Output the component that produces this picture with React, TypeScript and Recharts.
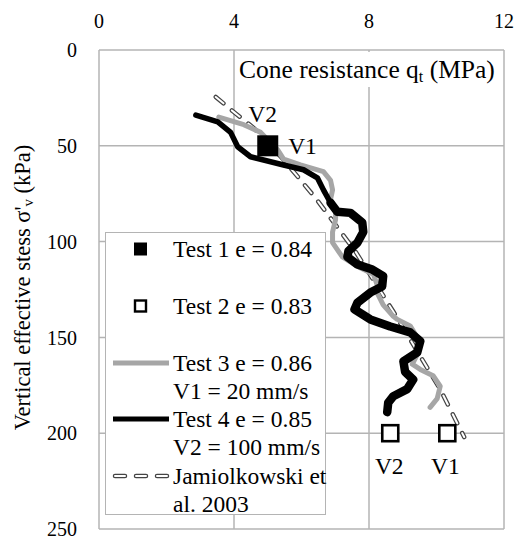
import { ComposedChart, Line, Scatter, XAxis, YAxis, CartesianGrid, Legend, Label } from "recharts"

const FONT = "'Liberation Serif', serif"

const xTicks = [0, 4, 8, 12]
const yTicks = [0, 50, 100, 150, 200, 250]

const test1 = [{ x: 5.0, y: 50 }]
const test2 = [{ x: 8.63, y: 200 }, { x: 10.32, y: 200 }]

const test3 = [
  { x: 3.55, y: 35 }, { x: 4.29, y: 39 }, { x: 4.79, y: 43 }, { x: 5.29, y: 52 },
  { x: 5.47, y: 57 }, { x: 5.97, y: 60 }, { x: 6.65, y: 63.5 }, { x: 6.86, y: 68 },
  { x: 6.92, y: 73 }, { x: 6.86, y: 78 }, { x: 7.01, y: 83 }, { x: 7.01, y: 88.5 },
  { x: 6.92, y: 95 }, { x: 6.92, y: 100.5 }, { x: 7.21, y: 108 }, { x: 7.66, y: 113 },
  { x: 8.13, y: 117 }, { x: 8.25, y: 123 }, { x: 8.25, y: 127 }, { x: 8.42, y: 133 },
  { x: 8.72, y: 139 }, { x: 8.84, y: 140.6 }, { x: 9.22, y: 144 }, { x: 9.5, y: 152 },
  { x: 9.43, y: 159 }, { x: 9.28, y: 164 }, { x: 9.52, y: 166.7 }, { x: 9.9, y: 170 },
  { x: 10.11, y: 175.5 }, { x: 10.02, y: 182 }, { x: 9.81, y: 186.5 },
]

// test 4 drawn in two parts: smooth upper part, noisy (thicker) lower part
const test4Upper = [
  { x: 2.87, y: 34 }, { x: 3.52, y: 37.5 }, { x: 3.9, y: 43 }, { x: 4.11, y: 50.5 },
  { x: 4.49, y: 55.7 }, { x: 5.47, y: 60 }, { x: 6.06, y: 62.5 }, { x: 6.47, y: 66.7 },
  { x: 6.65, y: 73 }, { x: 6.86, y: 79.7 },
]
const test4Lower = [
  { x: 6.86, y: 79.7 }, { x: 7.06, y: 84.4 }, { x: 7.45, y: 85 },
  { x: 7.8, y: 90 }, { x: 7.83, y: 95 }, { x: 7.66, y: 100.5 }, { x: 7.39, y: 105 },
  { x: 7.36, y: 108 }, { x: 7.66, y: 112 }, { x: 8.1, y: 114.6 }, { x: 8.42, y: 118 },
  { x: 8.39, y: 123.4 }, { x: 8.04, y: 126.6 }, { x: 7.66, y: 131.8 }, { x: 7.57, y: 135.4 },
  { x: 8.04, y: 140.6 }, { x: 8.63, y: 144.3 }, { x: 9.22, y: 147.4 }, { x: 9.52, y: 152 },
  { x: 9.43, y: 157.8 }, { x: 9.02, y: 162.5 }, { x: 9.07, y: 168 }, { x: 9.31, y: 172 },
  { x: 9.13, y: 177 }, { x: 8.72, y: 180.7 }, { x: 8.57, y: 184 }, { x: 8.54, y: 189 },
]

const jamiolkowski = [
  { x: 3.46, y: 24.5 }, { x: 3.99, y: 32.3 }, { x: 4.58, y: 40.6 }, { x: 5.47, y: 57.3 },
  { x: 6.41, y: 77.1 }, { x: 7.6, y: 105.2 }, { x: 8.72, y: 136.5 }, { x: 10.11, y: 177.1 },
  { x: 10.82, y: 202 },
]

const pointLabels = [
  { x: 4.85, y: 33.5, text: "V2" },
  { x: 6.03, y: 50, text: "V1" },
  { x: 8.6, y: 217, text: "V2" },
  { x: 10.26, y: 217, text: "V1" },
]

const legendItems = [
  { kind: "filled", lines: ["Test 1 e = 0.84"] },
  { kind: "open", lines: ["Test 2 e = 0.83"] },
  { kind: "gray", lines: ["Test 3 e = 0.86", "V1 = 20 mm/s"] },
  { kind: "black", lines: ["Test 4 e = 0.85", "V2 = 100 mm/s"] },
  { kind: "dash", lines: ["Jamiolkowski et", "al. 2003"] },
]
const legendRowTops = [16, 73, 130, 186, 243]

const GRID = "#b4b4b4"

function FilledSquare(props: any) {
  const { cx, cy } = props
  return <rect x={cx - 10.5} y={cy - 10.5} width={21} height={21} fill="#000" />
}

function OpenSquare(props: any) {
  const { cx, cy } = props
  return <rect x={cx - 8} y={cy - 8} width={16} height={16} fill="#fff" stroke="#000" strokeWidth={2.6} />
}

function PointText(props: any) {
  const { cx, cy, payload } = props
  return (
    <text x={cx} y={cy} textAnchor="middle" dominantBaseline="central" fontFamily={FONT} fontSize={23.5} fill="#000">
      {payload.text}
    </text>
  )
}

function YTitle(props: any) {
  const vb = props.viewBox
  const x = 22
  const y = vb.y + vb.height / 2 - 2
  return (
    <text x={x} y={y} transform={`rotate(-90 ${x} ${y})`} textAnchor="middle" dominantBaseline="central"
      fontFamily={FONT} fontSize={22.5} fill="#000">
      Vertical effective stess σ'<tspan fontSize={15} dy={6}>v</tspan><tspan dy={-6}> (kPa)</tspan>
    </text>
  )
}

function LegendIcon({ kind }: { kind: string }) {
  return (
    <svg width={58} height={14} style={{ position: "absolute", left: 6, top: -7 }}>
      {kind === "filled" && <rect x={22} y={0.5} width={13} height={13} fill="#000" />}
      {kind === "open" && <rect x={23} y={1.5} width={11} height={11} fill="#fff" stroke="#000" strokeWidth={2.4} />}
      {kind === "gray" && <line x1={1} x2={57} y1={7} y2={7} stroke="#a6a6a6" strokeWidth={5} />}
      {kind === "black" && <line x1={1} x2={57} y1={7} y2={7} stroke="#000" strokeWidth={5} />}
      {kind === "dash" && (
        <g>
          <line x1={3} x2={57} y1={7} y2={7} stroke="#444" strokeWidth={4.5} strokeDasharray="10 11" strokeLinecap="round" />
          <line x1={3} x2={57} y1={7} y2={7} stroke="#fff" strokeWidth={2} strokeDasharray="10 11" strokeLinecap="round" />
        </g>
      )}
    </svg>
  )
}

function LegendBox() {
  return (
    <div style={{
      position: "relative", width: 219, height: 281, background: "#fff", border: `1.5px solid ${GRID}`,
      fontFamily: FONT, fontSize: 23.5, color: "#000", lineHeight: "28.5px",
    }}>
      {legendItems.map((item, i) => (
        <div key={i} style={{ position: "absolute", left: 0, top: legendRowTops[i] }}>
          <LegendIcon kind={item.kind} />
          <div style={{ position: "absolute", left: 67, top: -14.25, whiteSpace: "nowrap" }}>
            {item.lines.map((l, j) => <div key={j}>{l}</div>)}
          </div>
        </div>
      ))}
    </div>
  )
}

export default function App() {
  const tickStyle = { fill: "#000", fontSize: 20, fontFamily: FONT }
  return (
    <div style={{ position: "absolute", left: 0, top: 0, width: 518, height: 543, background: "#fff" }}>
      <ComposedChart width={518} height={543} margin={{ top: 0, right: 14, bottom: 14, left: 0 }}>
        <CartesianGrid stroke={GRID} strokeWidth={1.5} />
        <XAxis type="number" dataKey="x" orientation="top" domain={[0, 12]} ticks={xTicks} height={50}
          tickSize={0} tickMargin={22} axisLine={false} allowDataOverflow tick={tickStyle} />
        <YAxis type="number" dataKey="y" domain={[0, 250]} ticks={yTicks} reversed width={99}
          tickSize={0} tickMargin={22} axisLine={false} allowDataOverflow tick={tickStyle}>
          <Label content={YTitle} />
        </YAxis>
        <Legend layout="vertical" align="center" verticalAlign="middle"
          wrapperStyle={{ left: 105, top: 232, width: 222, height: 284 }} content={() => <LegendBox />} />
        <Line data={jamiolkowski} dataKey="y" stroke="#444" strokeWidth={4.5} strokeDasharray="10 11"
          strokeLinecap="round" dot={false} isAnimationActive={false} legendType="none" />
        <Line data={jamiolkowski} dataKey="y" stroke="#fff" strokeWidth={2} strokeDasharray="10 11"
          strokeLinecap="round" dot={false} isAnimationActive={false} legendType="none" />
        <Line data={test3} dataKey="y" stroke="#a6a6a6" strokeWidth={5} strokeLinejoin="round" strokeLinecap="round"
          dot={false} isAnimationActive={false} />
        <Line data={test4Upper} dataKey="y" stroke="#000" strokeWidth={5.5} strokeLinejoin="round" strokeLinecap="round"
          dot={false} isAnimationActive={false} />
        <Line data={test4Lower} dataKey="y" stroke="#000" strokeWidth={8.5} strokeLinejoin="round" strokeLinecap="round"
          dot={false} isAnimationActive={false} legendType="none" />
        <Scatter data={test1} shape={FilledSquare} isAnimationActive={false} />
        <Scatter data={test2} shape={OpenSquare} isAnimationActive={false} />
        <Scatter data={pointLabels} shape={PointText} isAnimationActive={false} legendType="none" />
      </ComposedChart>
      <div style={{
        position: "absolute", left: 236, top: 52, width: 266, height: 35, background: "#fff",
        fontFamily: FONT, fontSize: 25.5, color: "#000", lineHeight: "35px", paddingLeft: 3, boxSizing: "border-box",
        whiteSpace: "nowrap",
      }}>
        Cone resistance q<sub style={{ fontSize: 16, verticalAlign: "-4px" }}>t</sub> (MPa)
      </div>
    </div>
  )
}
